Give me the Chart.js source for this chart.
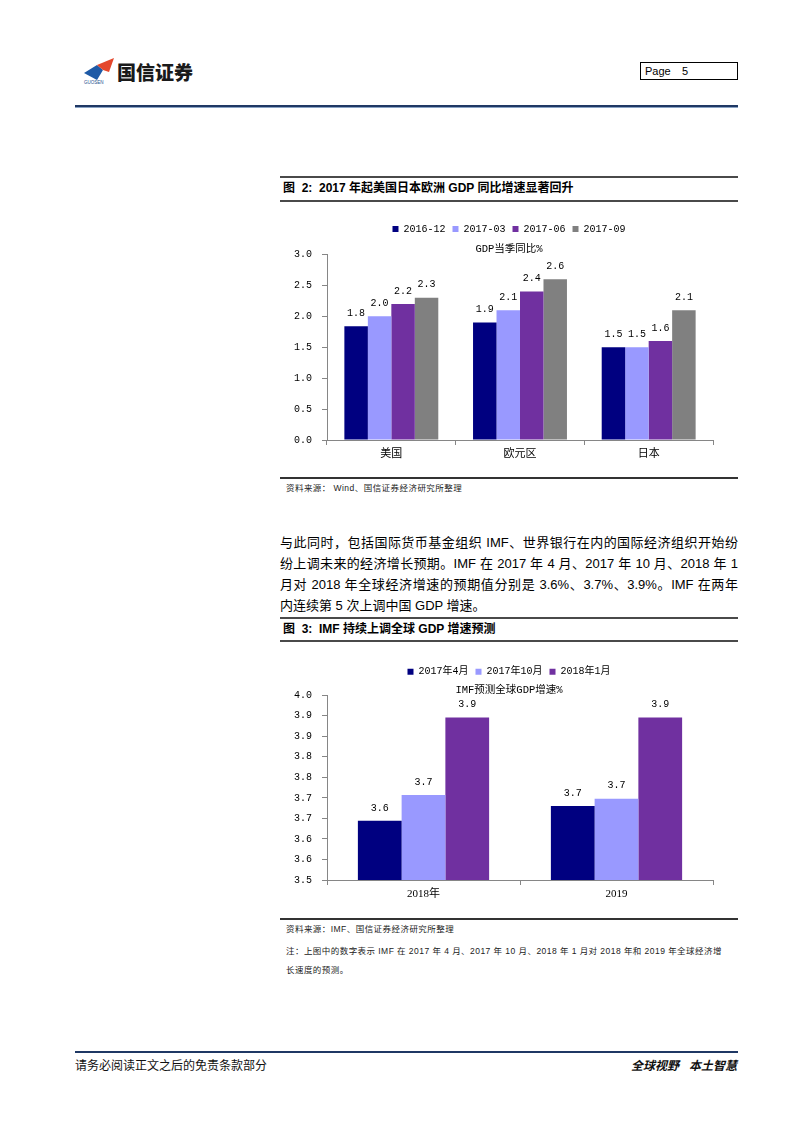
<!DOCTYPE html>
<html>
<head>
<meta charset="utf-8">
<script src="https://cdn.jsdelivr.net/npm/chart.js@4.4.1/dist/chart.umd.min.js"></script>
<style>
html,body{margin:0;padding:0;background:#fff;}
#page{position:relative;width:800px;height:1132px;overflow:hidden;background:#fff;
  font-family:"Liberation Sans","Noto Sans CJK SC",sans-serif;color:#000;}
.a{position:absolute;white-space:nowrap;}
.rule{position:absolute;left:280px;width:458px;background:#4a4a4a;}
.figtitle{position:absolute;left:283px;font-size:12px;font-weight:bold;line-height:14px;}
.src{position:absolute;left:286px;font-size:8.5px;line-height:10px;color:#222;letter-spacing:0.45px;}
.para{position:absolute;left:280px;width:458px;font-size:13px;line-height:16px;height:16px;white-space:nowrap;}
.just{text-align:justify;text-align-last:justify;}
canvas{position:absolute;}
</style>
</head>
<body>
<div id="page">
  <!-- header -->
  <svg class="a" style="left:83px;top:56px" width="32" height="26" viewBox="0 0 32 26">
    <polygon points="1,17 14,9 20,14 14,24" fill="#1e5aa6"/>
    <polygon points="14,9 31,2 26,16 20,14" fill="#e4472c"/>
  </svg>
  <div class="a" style="left:84px;top:80px;font-size:4.5px;line-height:5px;color:#1e4f8f;">GUOSEN</div>
  <div class="a" style="left:117px;top:60px;font-family:'Noto Sans CJK SC';font-size:19px;font-weight:900;line-height:24px;color:#1a1a1a;">国信证券</div>
  <div class="a" style="left:640px;top:62px;width:96px;height:16px;border:1px solid #000;font-size:11px;line-height:16px;padding-left:0;">
    <span style="position:absolute;left:4px;">Page</span><span style="position:absolute;left:41px;">5</span>
  </div>
  <div class="a" style="left:75px;top:105px;width:663px;height:2px;background:#1f3864;"></div>
  <div class="a" style="left:75px;top:107px;width:663px;height:1px;background:#8aa3c4;"></div>

  <!-- figure 2 -->
  <div class="rule" style="top:176px;height:2px;"></div>
  <div class="figtitle" style="top:181px;">图&nbsp;&nbsp;2:&nbsp; 2017 年起美国日本欧洲 GDP 同比增速显著回升</div>
  <div class="rule" style="top:200px;height:2px;"></div>
  <canvas id="c1" width="458" height="268" style="left:280px;top:206px;"></canvas>
  <div class="rule" style="top:477px;height:1.5px;background:#333;"></div>
  <div class="src" style="top:483px;">资料来源： Wind、国信证券经济研究所整理</div>

  <!-- paragraph -->
  <div class="para just" style="top:535px;">与此同时，包括国际货币基金组织 IMF、世界银行在内的国际经济组织开始纷</div>
  <div class="para just" style="top:556px;">纷上调未来的经济增长预期。IMF 在 2017 年 4 月、2017 年 10 月、2018 年 1</div>
  <div class="para just" style="top:577px;">月对 2018 年全球经济增速的预期值分别是 3.6%、3.7%、3.9%。IMF 在两年</div>
  <div class="para" style="top:598px;">内连续第 5 次上调中国 GDP 增速。</div>

  <!-- figure 3 -->
  <div class="rule" style="top:617px;height:2px;"></div>
  <div class="figtitle" style="top:622px;">图&nbsp;&nbsp;3:&nbsp; IMF 持续上调全球 GDP 增速预测</div>
  <div class="rule" style="top:640px;height:2px;"></div>
  <canvas id="c2" width="458" height="268" style="left:280px;top:646px;"></canvas>
  <div class="rule" style="top:918px;height:1.5px;background:#333;"></div>
  <div class="src" style="top:924px;">资料来源：IMF、国信证券经济研究所整理</div>
  <div class="src" style="top:946px;">注：上图中的数字表示 IMF 在 2017 年 4 月、2017 年 10 月、2018 年 1 月对 2018 年和 2019 年全球经济增</div>
  <div class="src" style="top:965px;">长速度的预测。</div>

  <!-- footer -->
  <div class="a" style="left:75px;top:1051px;width:663px;height:2px;background:#1f3864;"></div>
  <div class="a" style="left:75px;top:1058px;font-size:12px;line-height:16px;color:#111;">请务必阅读正文之后的免责条款部分</div>
  <div class="a" style="right:63px;top:1058px;font-size:12px;line-height:16px;font-weight:bold;font-style:italic;color:#111;">全球视野&nbsp;&nbsp; 本土智慧</div>
</div>

<script>
// ---------- Figure 2 data ----------
const regions = ['美国', '欧元区', '日本'];
const gdp201612 = [1.84, 1.9, 1.5];
const gdp201703 = [2.0, 2.1, 1.5];
const gdp201706 = [2.2, 2.4, 1.6];
const gdp201709 = [2.3, 2.6, 2.1];
const fig2SeriesNames = ['2016-12', '2017-03', '2017-06', '2017-09'];
const fig2Title = 'GDP当季同比%';

// ---------- Figure 3 data ----------
const years = ['2018年', '2019'];
const imfApr2017 = [3.66, 3.70];
const imfOct2017 = [3.73, 3.72];
const imfJan2018 = [3.94, 3.94];
const imfApr2017Text = ['3.6', '3.7'];
const imfOct2017Text = ['3.7', '3.7'];
const imfJan2018Text = ['3.9', '3.9'];
const fig3SeriesNames = ['2017年4月', '2017年10月', '2018年1月'];
const fig3Title = 'IMF预测全球GDP增速%';

const C_NAVY = '#000080', C_LAV = '#9999FF', C_PURPLE = '#7030A0', C_GRAY = '#808080';
const MONO = "'Liberation Mono','Noto Sans CJK SC'";
const SERIF = "'Liberation Serif','Noto Sans CJK SC'";
const AXIS = '#868686';

const valueLabels = {
  id: 'valueLabels',
  afterDatasetsDraw(chart) {
    const ctx = chart.ctx;
    ctx.save();
    ctx.font = "10px " + MONO;
    ctx.fillStyle = '#000';
    ctx.textAlign = 'center';
    ctx.textBaseline = 'middle';
    chart.data.datasets.forEach((ds, i) => {
      const meta = chart.getDatasetMeta(i);
      meta.data.forEach((el, j) => {
        const t = ds.valueText ? ds.valueText[j] : Number(ds.data[j]).toFixed(1);
        ctx.fillText(t, el.x, el.y - 13);
      });
    });
    ctx.restore();
  }
};

function makeChart(id, labels, datasets, yOpts, title, padTop, titlePad, catPct) {
  return new Chart(document.getElementById(id), {
    type: 'bar',
    data: { labels, datasets },
    plugins: [valueLabels],
    options: {
      responsive: false,
      animation: false,
      events: [],
      layout: { padding: { left: 0, right: 0, top: padTop, bottom: 0 } },
      datasets: { bar: { categoryPercentage: catPct, barPercentage: 1.0, borderWidth: 0 } },
      plugins: {
        legend: {
          position: 'top',
          labels: { boxWidth: 6, boxHeight: 6, padding: 7, color: '#000',
                    font: { family: MONO, size: 10 } }
        },
        title: {
          display: true, text: title, weight: 500, color: '#000',
          font: { family: MONO, size: 10.5, weight: 'normal', lineHeight: 1.0 },
          padding: titlePad
        },
        tooltip: { enabled: false }
      },
      scales: {
        x: {
          afterFit: s => { s.height = 34; },
          grid: { display: true, offset: true, drawOnChartArea: false, drawTicks: true, tickLength: 5, color: AXIS },
          border: { display: true, color: AXIS, width: 1 },
          ticks: { color: '#000', padding: 3, font: { family: SERIF, size: 11 } }
        },
        y: Object.assign({
          afterFit: s => { s.width = 47; },
          grid: { display: true, drawOnChartArea: false, drawTicks: true, tickLength: 5, color: AXIS },
          border: { display: true, color: AXIS, width: 1 },
        }, yOpts),
        yRightSpace: {
          type: 'linear', position: 'right', display: true,
          grid: { display: false }, border: { display: false },
          ticks: { display: false },
          afterFit: s => { s.width = 25; }
        }
      }
    }
  });
}

makeChart('c1', regions, [
  { label: fig2SeriesNames[0], data: gdp201612, backgroundColor: C_NAVY },
  { label: fig2SeriesNames[1], data: gdp201703, backgroundColor: C_LAV },
  { label: fig2SeriesNames[2], data: gdp201706, backgroundColor: C_PURPLE },
  { label: fig2SeriesNames[3], data: gdp201709, backgroundColor: C_GRAY }
], {
  min: 0, max: 3,
  ticks: { stepSize: 0.5, padding: 10, color: '#000', font: { family: MONO, size: 10 },
           callback: v => Number(v).toFixed(1) }
}, fig2Title, 11, { top: 0, bottom: 0 }, 0.73);

makeChart('c2', years, [
  { label: fig3SeriesNames[0], data: imfApr2017, valueText: imfApr2017Text, backgroundColor: C_NAVY },
  { label: fig3SeriesNames[1], data: imfOct2017, valueText: imfOct2017Text, backgroundColor: C_LAV },
  { label: fig3SeriesNames[2], data: imfJan2018, valueText: imfJan2018Text, backgroundColor: C_PURPLE }
], {
  min: 3.5, max: 4.0,
  ticks: { count: 10, padding: 10, color: '#000', font: { family: MONO, size: 10 },
           callback: v => Number(v).toFixed(1) }
}, fig3Title, 13.7, { top: -2, bottom: 0 }, 0.68);
</script>
</body>
</html>
